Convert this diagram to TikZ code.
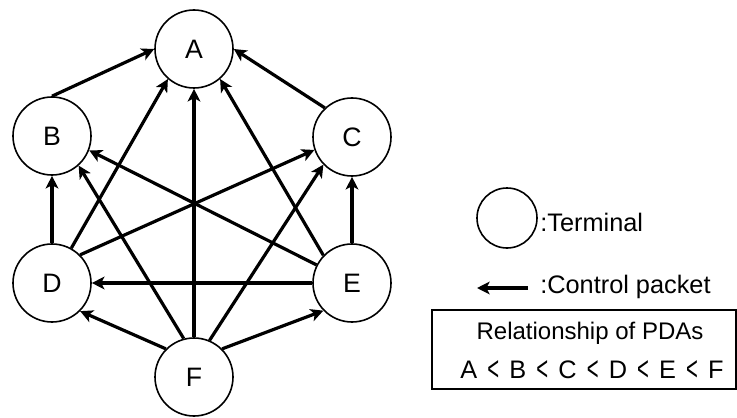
\documentclass[tikz,border=0pt]{standalone}
\usepackage{fontspec}
\setmainfont{Liberation Sans}
\usetikzlibrary{arrows.meta}
\newcommand{\pdaless}{\hspace{0.4em}\raisebox{-0.08em}{\scalebox{0.8}[1.35]{<}}\hspace{0.4em}}

\begin{document}
\begin{tikzpicture}[x=0.75pt, y=-0.75pt,
    terminal/.style={circle, draw, line width=1.2pt, minimum size=58.5pt, inner sep=0pt, font=\fontsize{20}{22}\selectfont},
    packet/.style={line width=2.4pt, -{Stealth[length=9.5pt, width=9.5pt, inset=2.5pt]}},
    legendtext/.style={font=\fontsize{19}{21}\selectfont, anchor=west, inner sep=0pt}]
    \useasboundingbox (0,0) rectangle (737,417);

    % Terminals
    \foreach \name/\xpos/\ypos in {A/194/49, B/52/136, C/352/137, D/52/283, E/352/283, F/194/377} {
        \node[terminal] (\name) at (\xpos,\ypos) {\name};
    }

    % Control packets
    \foreach \from/\fa/\to/\ta in {
        B/90/A/180, C/133/A/0, D/61/A/229, F/90/A/270, E/136/A/311,
        D/90/B/270, E/90/C/270, D/45/C/199, E/153/B/339,
        F/105/B/312, F/67/C/224, E/180/D/0, F/135/D/315, F/45/E/224%
    } {
        \draw[packet] (\from.\fa) -- (\to.\ta);
    }

    % Legend
    \node[circle, draw, line width=1.2pt, minimum size=45pt] (key) at (507,218) {};
    \node[legendtext] (keytext) at (540,222) {:Terminal};
    \coordinate (keytail) at (528,288);
    \coordinate (keyhead) at (477,288);
    \draw[packet] (keytail) -- (keyhead);
    \node[legendtext] (packettext) at (540,287) {:Control packet};

    % Relationship box
    \draw[line width=1.5pt] (432,310) rectangle (736,389);
    \node[font=\fontsize{18}{20}\selectfont] (pdatitle) at (590,333) {Relationship of PDAs};
    \node[font=\fontsize{19}{21}\selectfont] (pdaorder) at (592,371)
        {A\pdaless B\pdaless C\pdaless D\pdaless E\pdaless F};
\end{tikzpicture}
\end{document}
